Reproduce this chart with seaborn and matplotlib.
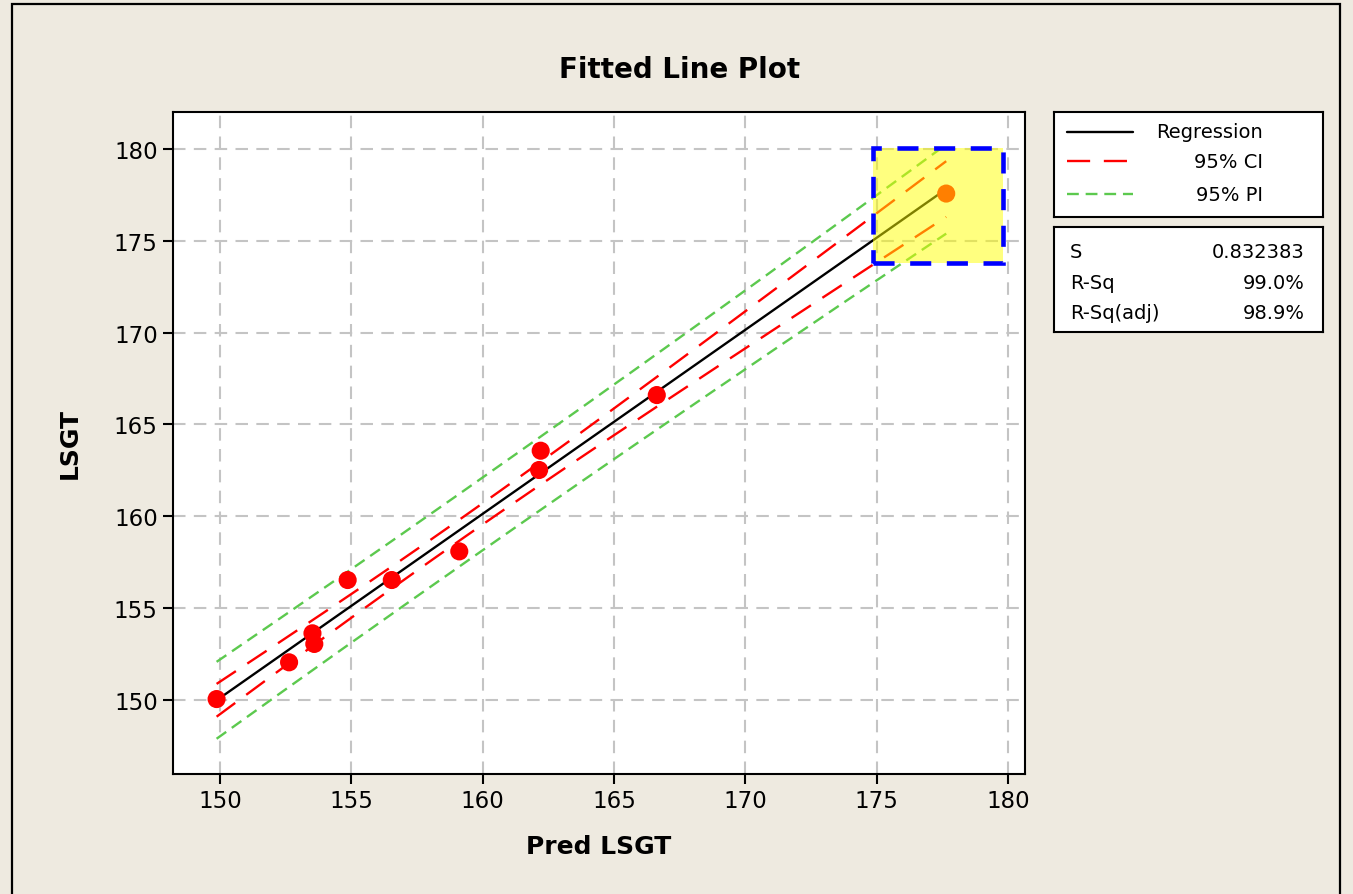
import numpy as np
import pandas as pd
import matplotlib
matplotlib.use("Agg")
import matplotlib.pyplot as plt
from matplotlib.patches import Rectangle
import seaborn as sns

# ---- data ----
pred_lsgt = [149.87, 152.63, 153.52, 153.59, 154.86, 156.54, 159.11, 162.15, 162.21, 166.63, 177.65]
lsgt      = [150.05, 152.05, 153.63, 153.05, 156.53, 156.53, 158.09, 162.52, 163.57, 166.60, 177.57]
x_ticks = [150, 155, 160, 165, 170, 175, 180]
y_ticks = [150, 155, 160, 165, 170, 175, 180]
legend_labels = ["Regression", "95% CI", "95% PI"]
stat_names = ["S", "R-Sq", "R-Sq(adj)"]
stat_values = ["0.832383", "99.0%", "98.9%"]
highlight_x = [174.87, 179.82]
highlight_y = [173.8, 180.05]

# ---- regression fit with confidence and prediction intervals ----
x = np.array(pred_lsgt)
y = np.array(lsgt)
n = len(x)
b1, b0 = np.polyfit(x, y, 1)
resid = y - (b0 + b1 * x)
s = np.sqrt(np.sum(resid ** 2) / (n - 2))
t_crit = 2.262157  # t(0.975, df=9)
sxx = np.sum((x - x.mean()) ** 2)
xs = np.linspace(x.min(), x.max(), 200)
yhat = b0 + b1 * xs
se_fit = s * np.sqrt(1.0 / n + (xs - x.mean()) ** 2 / sxx)
se_pred = s * np.sqrt(1.0 + 1.0 / n + (xs - x.mean()) ** 2 / sxx)
fit = pd.DataFrame({"x": xs, "fit": yhat,
                    "ci_lo": yhat - t_crit * se_fit, "ci_hi": yhat + t_crit * se_fit,
                    "pi_lo": yhat - t_crit * se_pred, "pi_hi": yhat + t_crit * se_pred})
pts = pd.DataFrame({"Pred LSGT": pred_lsgt, "LSGT": lsgt})

# ---- figure ----
sns.set_style("white")
plt.rcParams["font.family"] = ["DejaVu Sans"]
plt.rcParams["text.color"] = "black"
plt.rcParams["axes.labelcolor"] = "black"
plt.rcParams["xtick.color"] = "black"
plt.rcParams["ytick.color"] = "black"
W, H = 1353, 895
BG = "#EEEAE0"
fig = plt.figure(figsize=(W / 100, H / 100), dpi=100, facecolor=BG)

def fx(px):
    return px / W

def fy(py):
    return 1 - py / H

# outer frame
fig.patches.append(Rectangle((fx(12), fy(905)), fx(1340) - fx(12), fy(5) - fy(905),
                             transform=fig.transFigure, fill=False,
                             edgecolor="black", lw=1.6, zorder=0))

ax = fig.add_axes([fx(173), fy(775), fx(1025) - fx(173), fy(113) - fy(775)])
ax.set_facecolor("white")

RED = "#FF0000"
GREEN = "#5CC94E"
LW = 1.7
ci_ls = (0, (9.8, 5.8))
pi_ls = (0, (5.0, 2.9))

sns.lineplot(data=fit, x="x", y="pi_hi", ax=ax, color=GREEN, lw=LW, linestyle=pi_ls,
             estimator=None, sort=False, zorder=3)
sns.lineplot(data=fit, x="x", y="pi_lo", ax=ax, color=GREEN, lw=LW, linestyle=pi_ls,
             estimator=None, sort=False, zorder=3)
sns.lineplot(data=fit, x="x", y="ci_hi", ax=ax, color=RED, lw=LW, linestyle=ci_ls,
             estimator=None, sort=False, zorder=3)
sns.lineplot(data=fit, x="x", y="ci_lo", ax=ax, color=RED, lw=LW, linestyle=ci_ls,
             estimator=None, sort=False, zorder=3)
sns.lineplot(data=fit, x="x", y="fit", ax=ax, color="black", lw=LW,
             estimator=None, sort=False, zorder=3)
sns.scatterplot(data=pts, x="Pred LSGT", y="LSGT", ax=ax, color=RED, s=170,
                edgecolor="none", linewidth=0, zorder=4)

# highlighted region (translucent yellow over the marks, blue dashed border)
ax.add_patch(Rectangle((highlight_x[0], highlight_y[0]), highlight_x[1] - highlight_x[0],
                       highlight_y[1] - highlight_y[0], facecolor=(1, 1, 0), alpha=0.5,
                       edgecolor="none", zorder=5))
ax.add_patch(Rectangle((highlight_x[0], highlight_y[0]), highlight_x[1] - highlight_x[0],
                       highlight_y[1] - highlight_y[0], fill=False, edgecolor="#0000FF",
                       lw=3.3, linestyle=(0, (4.6, 3.4)), zorder=6))

ax.set_xlim(148.21, 180.65)
ax.set_ylim(145.97, 182.01)
ax.set_xticks(x_ticks)
ax.set_yticks(y_ticks)
ax.grid(True, color="#C4C4C4", lw=1.5, linestyle=(0, (6, 4)), zorder=1)
ax.set_axisbelow(True)
for sp in ax.spines.values():
    sp.set_color("black")
    sp.set_linewidth(1.5)
    sp.set_visible(True)
ax.tick_params(axis="both", direction="out", length=7, width=1.5, color="black",
               labelcolor="black", labelsize=16.5, pad=4, bottom=True, left=True,
               top=False, right=False)
ax.set_xlabel("")
ax.set_ylabel("")

fig.text(fx(680), fy(70), "Fitted Line Plot", ha="center", va="center",
         fontsize=20, fontweight="bold", color="black")
fig.text(fx(599), fy(847), "Pred LSGT", ha="center", va="center",
         fontsize=18, fontweight="bold", color="black")
fig.text(fx(70), fy(444), "LSGT", ha="center", va="center", rotation=90,
         fontsize=18, fontweight="bold", color="black")

# legend box
lax = fig.add_axes([fx(1054), fy(218), fx(1323) - fx(1054), fy(113) - fy(218)])
lax.set_xlim(0, 1)
lax.set_ylim(0, 1)
lax.set_xticks([])
lax.set_yticks([])
lax.set_facecolor("white")
for sp in lax.spines.values():
    sp.set_color("black")
    sp.set_linewidth(1.5)
rows = [0.81, 0.533, 0.219]
styles = [dict(color="black", lw=LW, linestyle="-"),
          dict(color=RED, lw=LW, linestyle=ci_ls),
          dict(color=GREEN, lw=LW, linestyle=pi_ls)]
for lab, ry, st in zip(legend_labels, rows, styles):
    lax.plot([0.048, 0.294], [ry, ry], **st)
    lax.text(0.777, ry, lab, ha="right", va="center", fontsize=14, color="black")

# statistics box
sax = fig.add_axes([fx(1054), fy(333), fx(1323) - fx(1054), fy(228) - fy(333)])
sax.set_xlim(0, 1)
sax.set_ylim(0, 1)
sax.set_xticks([])
sax.set_yticks([])
sax.set_facecolor("white")
for sp in sax.spines.values():
    sp.set_color("black")
    sp.set_linewidth(1.5)
for name, val, ry in zip(stat_names, stat_values, [0.771, 0.476, 0.19]):
    sax.text(0.06, ry, name, ha="left", va="center", fontsize=14, color="black")
    sax.text(0.933, ry, val, ha="right", va="center", fontsize=14, color="black")

fig.savefig("out.png", dpi=100, facecolor=BG)
